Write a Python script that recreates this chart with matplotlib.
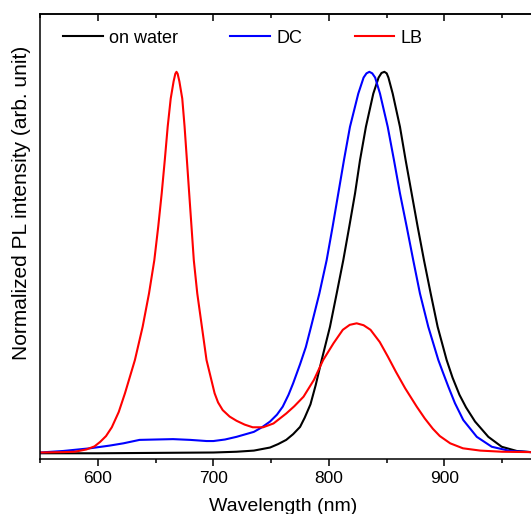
"""
Normalized PL spectra: film on water vs DC vs LB transfer.
"""

import matplotlib
matplotlib.use("Agg")
import matplotlib.pyplot as plt
from matplotlib.ticker import MultipleLocator

# ============================================================
# THEME
# ============================================================

plt.rcParams["font.family"] = ["Liberation Sans", "DejaVu Sans"]
plt.rcParams["axes.linewidth"] = 1.1
plt.rcParams["xtick.labelsize"] = 12.5
plt.rcParams["axes.labelsize"] = 14

# ============================================================
# DATA
# ============================================================

WL_WATER = [550, 600, 650, 700, 720, 735, 749, 756, 763, 769, 775, 779,
            784, 788.5, 793.7, 800.9, 806.7, 812.4, 817.6, 822.6, 826.9,
            832, 838.4, 843, 845.5, 848, 850, 851.5, 855.2, 861.5, 866.4,
            871.6, 876.8, 882.3, 888.1, 894.1, 901.9, 907, 913, 918.7,
            926.5, 938, 949.6, 962.6, 975, 1000]
PL_WATER = [0.002, 0.002, 0.003, 0.004, 0.006, 0.009, 0.017, 0.026, 0.037,
            0.052, 0.071, 0.095, 0.130, 0.180, 0.246, 0.333, 0.420, 0.507,
            0.595, 0.682, 0.769, 0.856, 0.943, 0.985, 0.997, 1.000, 0.996,
            0.985, 0.943, 0.856, 0.769, 0.682, 0.595, 0.507, 0.420, 0.333,
            0.246, 0.200, 0.155, 0.122, 0.085, 0.045, 0.019, 0.008, 0.005,
            0.003]

WL_DC = [550, 570, 593, 610, 622, 636, 650, 665, 680, 694, 700, 710, 720,
         735, 742, 749, 755, 760, 765, 769, 775, 780, 784.5, 791.7, 798,
         803.2, 808.1, 813, 818.2, 825.4, 830, 832.5, 835, 837.5, 840,
         844.2, 850.9, 856.3, 861.5, 867.3, 873, 878.8, 886, 894.7, 898.5,
         903.4, 909.1, 916.3, 928, 941, 956.8, 975, 1000]
PL_DC = [0.004, 0.008, 0.015, 0.022, 0.028, 0.037, 0.038, 0.039, 0.037,
         0.034, 0.034, 0.038, 0.045, 0.058, 0.070, 0.085, 0.103, 0.124,
         0.155, 0.185, 0.235, 0.280, 0.333, 0.420, 0.507, 0.595, 0.682,
         0.769, 0.856, 0.943, 0.985, 0.996, 1.000, 0.996, 0.985, 0.943,
         0.856, 0.769, 0.682, 0.595, 0.507, 0.420, 0.333, 0.246, 0.215,
         0.176, 0.133, 0.089, 0.045, 0.019, 0.008, 0.005, 0.003]

WL_LB = [550, 570, 580, 590, 597, 602, 607, 612, 618, 623.4, 632, 638.7,
         644.2, 648.8, 652.2, 655.2, 657.9, 660.4, 663, 665.5, 667, 668,
         669, 670.5, 673, 675, 677, 679, 681, 683, 686, 690, 694, 701, 704,
         708, 714, 720, 727, 734, 743, 752, 763, 770, 778, 787, 795, 804,
         812, 818, 824, 830, 836, 844, 851, 858, 866, 876, 883, 890, 896,
         905, 916, 931, 950, 975, 1000]
PL_LB = [0.004, 0.005, 0.006, 0.012, 0.020, 0.032, 0.047, 0.070, 0.110,
         0.159, 0.246, 0.333, 0.420, 0.507, 0.595, 0.682, 0.770, 0.857,
         0.930, 0.975, 0.995, 1.000, 0.995, 0.975, 0.930, 0.857, 0.770,
         0.682, 0.595, 0.507, 0.420, 0.333, 0.246, 0.159, 0.135, 0.115,
         0.098, 0.087, 0.077, 0.070, 0.070, 0.080, 0.106, 0.125, 0.150,
         0.194, 0.246, 0.290, 0.325, 0.338, 0.342, 0.337, 0.325, 0.293,
         0.255, 0.215, 0.172, 0.124, 0.093, 0.066, 0.047, 0.028, 0.015,
         0.009, 0.006, 0.005, 0.004]

X_TICKS = [600, 700, 800, 900]

SERIES = [
    ("on water", WL_WATER, PL_WATER, "#000000"),
    ("DC", WL_DC, PL_DC, "#0000FF"),
    ("LB", WL_LB, PL_LB, "#FF0000"),
]


# ============================================================
# FIGURE
# ============================================================

def plot_spectra():

    fig = plt.figure(figsize=(5.31, 5.14), dpi=100)

    # axes run past the right edge, the reference is cropped there
    ax = fig.add_axes([0.0757, 0.107, 0.9788, 0.8648])

    for label, wl, pl, color in SERIES:
        ax.plot(wl, pl, color=color, linewidth=1.5, label=label)

    ax.set_xlim(550, 1000)
    ax.set_ylim(-0.013, 1.15)

    ax.set_yticks([])
    ax.spines["right"].set_visible(False)

    ax.set_xticks(X_TICKS)
    ax.xaxis.set_minor_locator(MultipleLocator(50))
    ax.tick_params(axis="x", which="major", direction="out",
                   length=5, width=1.1, pad=3.5)
    ax.tick_params(axis="x", which="minor", direction="out",
                   length=3, width=1.1)

    # top axis: ticks pointing in, no labels
    top = ax.secondary_xaxis("top")
    top.set_xticks(X_TICKS)
    top.xaxis.set_minor_locator(MultipleLocator(50))
    top.tick_params(axis="x", which="major", direction="in",
                    length=5, width=1.1, labeltop=False)
    top.tick_params(axis="x", which="minor", direction="in",
                    length=3, width=1.1)

    ax.set_xlabel("Wavelength (nm)", fontsize=14)
    ax.xaxis.set_label_coords(0.467, -0.088)

    ax.set_ylabel("Normalized PL intensity (arb. unit)", fontsize=15)
    ax.yaxis.set_label_coords(-0.017, 0.576)

    ax.legend(
        loc="center left",
        bbox_to_anchor=(0.044, 0.947),
        ncol=3,
        frameon=False,
        fontsize=13,
        handlelength=2.2,
        handletextpad=0.35,
        columnspacing=2.9,
        borderpad=0,
        borderaxespad=0,
    )

    fig.savefig("out.png", dpi=100)
    plt.close(fig)


if __name__ == "__main__":

    plot_spectra()
